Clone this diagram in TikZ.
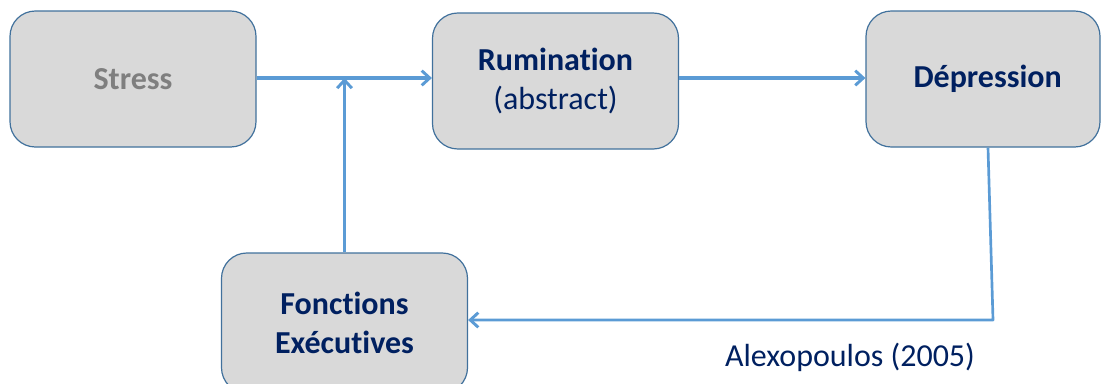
\documentclass[tikz,border=0pt]{standalone}
\usepackage{fontspec}
\setmainfont{Carlito}[Ligatures=NoCommon]
\usetikzlibrary{arrows.meta}
\definecolor{boxfill}{HTML}{D9D9D9}
\definecolor{boxline}{HTML}{41719C}
\definecolor{arrowblue}{HTML}{5B9BD5}
\definecolor{textnavy}{HTML}{002060}
\definecolor{textgray}{HTML}{7F7F7F}
\tikzset{
	block/.style={draw=boxline, line width=0.9pt, fill=boxfill, rounded corners=19pt,
		minimum width=184.5pt, minimum height=102pt, inner sep=0pt, align=center,
		text=textnavy, font=\fontsize{24}{29}\selectfont},
	link/.style={draw=arrowblue, line width=2.4pt, line join=round,
		-{Straight Barb[length=6pt,width=11pt,line width=2.2pt]}},
}
\begin{document}
\begin{tikzpicture}[x=0.75pt,y=-0.75pt]
	\clip (0,0) rectangle (1102,383);
	\node[block] (stress) at (133,79) {\textcolor{textgray}{\textbf{Stress}}};
	\node[block] (rum) at (555.5,81) {\textbf{Rumination}\\(abstract)};
	\node[block, minimum width=175.5pt] (dep) at (983,79) {\hspace*{7pt}\textbf{Dépression}};
	\node[block, minimum height=105pt] (fe) at (344.5,323) {\textbf{Fonctions}\\\textbf{Exécutives}};
	\node[text=textnavy, font=\fontsize{24}{29}\selectfont, anchor=base] (ref) at (850,366) {Alexopoulos (2005)};
	\coordinate (join) at (344.5,78);
	\coordinate (bend) at (993,320);
	\draw[link] (stress.east |- join) -- (join -| rum.west);
	\draw[link] (rum.east |- join) -- (join -| dep.west);
	\draw[link] (fe.north) -- (join);
	\draw[link, line width=2pt] (dep.south -| 988,0) -- (bend) -- (bend -| fe.east);
\end{tikzpicture}
\end{document}
